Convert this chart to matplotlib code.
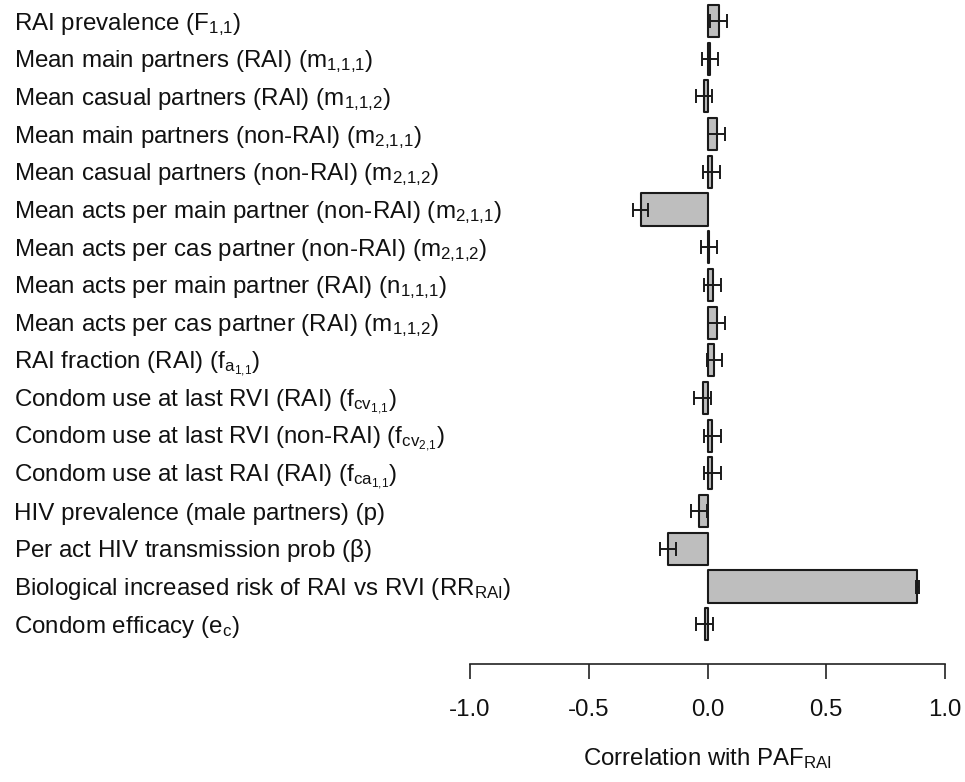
import matplotlib
matplotlib.use("Agg")
import matplotlib.pyplot as plt
import matplotlib.transforms as mtransforms

plt.rcParams['font.family'] = ['Liberation Sans', 'DejaVu Sans']
plt.rcParams['mathtext.fontset'] = 'custom'
plt.rcParams['mathtext.rm'] = 'Liberation Sans'
plt.rcParams['mathtext.it'] = 'Liberation Sans'
plt.rcParams['mathtext.default'] = 'regular'

labels = [
    r"RAI prevalence ($F_{1{,}1}$)",
    r"Mean main partners (RAI) ($m_{1{,}1{,}1}$)",
    r"Mean casual partners (RAI) ($m_{1{,}1{,}2}$)",
    r"Mean main partners (non-RAI) ($m_{2{,}1{,}1}$)",
    r"Mean casual partners (non-RAI) ($m_{2{,}1{,}2}$)",
    r"Mean acts per main partner (non-RAI) ($m_{2{,}1{,}1}$)",
    r"Mean acts per cas partner (non-RAI) ($m_{2{,}1{,}2}$)",
    r"Mean acts per main partner (RAI) ($n_{1{,}1{,}1}$)",
    r"Mean acts per cas partner (RAI) ($m_{1{,}1{,}2}$)",
    r"RAI fraction (RAI) ($f_{a_{1{,}1}}$)",
    r"Condom use at last RVI (RAI) ($f_{cv_{1{,}1}}$)",
    r"Condom use at last RVI (non-RAI) ($f_{cv_{2{,}1}}$)",
    r"Condom use at last RAI (RAI) ($f_{ca_{1{,}1}}$)",
    r"HIV prevalence (male partners) (p)",
    r"Per act HIV transmission prob ($\beta$)",
    r"Biological increased risk of RAI vs RVI ($RR_{RAI}$)",
    r"Condom efficacy ($e_c$)",
]
values = [0.047, 0.010, -0.014, 0.038, 0.018, -0.282, 0.006, 0.022, 0.038,
          0.028, -0.020, 0.020, 0.020, -0.037, -0.166, 0.884, -0.012]
errors = [0.035, 0.035, 0.035, 0.035, 0.035, 0.032, 0.035, 0.035, 0.035,
          0.032, 0.035, 0.035, 0.035, 0.034, 0.032, 0.005, 0.035]
xticks = [-1.0, -0.5, 0.0, 0.5, 1.0]
xtick_labels = ["-1.0", "-0.5", "0.0", "0.5", "1.0"]

W, H = 965, 782
fig = plt.figure(figsize=(W / 100, H / 100), dpi=100)
row0, rowstep = 21, 37.7
nrow = len(labels)
ax_bottom_px = 664
ylim_bottom = (nrow - 1) + (ax_bottom_px - (row0 + (nrow - 1) * rowstep)) / rowstep
ylim_top = -row0 / rowstep
ax = fig.add_axes([470 / W, 1 - ax_bottom_px / H, (945 - 470) / W, ax_bottom_px / H])
ax.set_xlim(-1, 1)
ax.set_ylim(ylim_bottom, ylim_top)

pos = list(range(nrow))
ax.barh(pos, values, height=0.85, color='#BEBEBE', edgecolor='#1a1a1a',
        linewidth=1.5, joinstyle='round', zorder=2)
ax.errorbar(values, pos, xerr=errors, fmt='none', ecolor='#1a1a1a',
            elinewidth=1.4, capsize=5.2, capthick=1.4, zorder=3)

for s in ['top', 'right', 'left']:
    ax.spines[s].set_visible(False)
ax.spines['bottom'].set_bounds(-1, 1)
ax.spines['bottom'].set_linewidth(1.2)
ax.spines['bottom'].set_color('#222222')
ax.set_yticks([])
ax.set_xticks(xticks)
ax.set_xticklabels(xtick_labels, fontsize=17.3, color='#111111')
ax.tick_params(axis='x', length=11, width=1.2, pad=14.5, color='#222222')
ax.set_xlabel(r"Correlation with PAF$_{RAI}$", fontsize=17.3, labelpad=18,
              color='#111111')

label_fs = 17.4
half_cap = 0.716 * label_fs * 100 / 72 / 2 / rowstep
trans = mtransforms.blended_transform_factory(fig.transFigure, ax.transData)
for i, lab in enumerate(labels):
    ax.text(14 / W, i + half_cap, lab, transform=trans, ha='left', va='baseline',
            fontsize=label_fs, color='#111111', clip_on=False)

fig.savefig("out.png", dpi=100)
